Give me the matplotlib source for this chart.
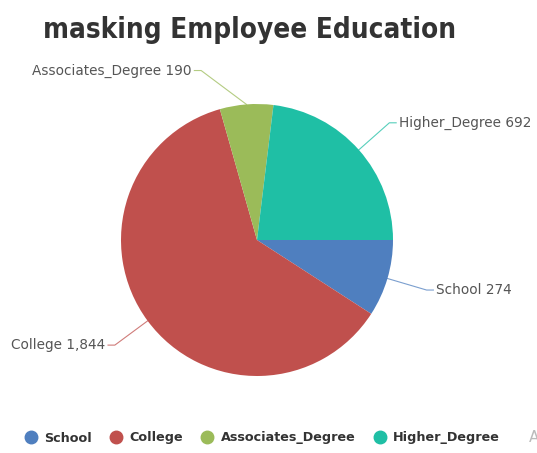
import numpy as np
import matplotlib
matplotlib.use("Agg")
import matplotlib.pyplot as plt
from matplotlib.lines import Line2D

# données
categories = ["School", "College", "Associates_Degree", "Higher_Degree"]
values = [274, 1844, 190, 692]
colors = ["#4f7fbf", "#c0504d", "#9bbb59", "#1fbfa5"]

W, H = 537, 453
CX, CY, R = 257, 240, 136   # centre / rayon du camembert en pixels

fig = plt.figure(figsize=(W / 100, H / 100), dpi=100)
ax = fig.add_axes([0, 0, 1, 1])

wedges, _ = ax.pie(values, colors=colors, startangle=0, counterclock=False,
                   radius=1.0, center=(0, 0), frame=True,
                   wedgeprops=dict(linewidth=0))
ax.set_xlim(-CX / R, (W - CX) / R)
ax.set_ylim(-(H - CY) / R, CY / R)
ax.set_aspect("equal")
ax.axis("off")

# étiquettes avec lignes de rappel (style echarts)
for w, name, val, col in zip(wedges, categories, values, colors):
    mid = np.deg2rad((w.theta1 + w.theta2) / 2)
    x0, y0 = np.cos(mid), np.sin(mid)
    x1, y1 = 1.3 * x0, 1.3 * y0
    side = 1 if x0 >= 0 else -1
    if abs(x0) < 0.3:
        # étiquette du haut décalée sur le côté
        x1 += side * 0.31
        y1 -= 0.05
    x2 = x1 + side * 0.05
    ax.plot([x0, x1, x2], [y0, y1, y1], color=col, lw=0.8, alpha=0.75)
    ax.text(x2 + side * 0.02, y1, f"{name} {val:,}", ha="left" if side > 0 else "right",
            va="center", fontsize=9.8, color="#555555", family="DejaVu Sans")

fig.text(250 / W, 1 - 30 / H, "masking Employee Education", ha="center", va="center",
         fontsize=20, fontweight="heavy", fontstretch="condensed", color="#333333",
         family=["DejaVu Sans"])

handles = [Line2D([], [], marker="o", linestyle="none", markersize=9,
                  markerfacecolor=c, markeredgecolor=c) for c in colors]
leg = fig.legend(handles, categories, loc="center", bbox_to_anchor=(259 / W, 1 - 438 / H),
                 ncol=4, frameon=False, handletextpad=0.05, columnspacing=0.9,
                 prop=dict(family="DejaVu Sans", weight="bold", size=9.2))
for t in leg.get_texts():
    t.set_color("#333333")

fig.text(529 / W, 1 - 437 / H, "A", ha="left", va="center", fontsize=11, color="#bbbbbb")

fig.savefig("out.png", dpi=100, facecolor="white")
